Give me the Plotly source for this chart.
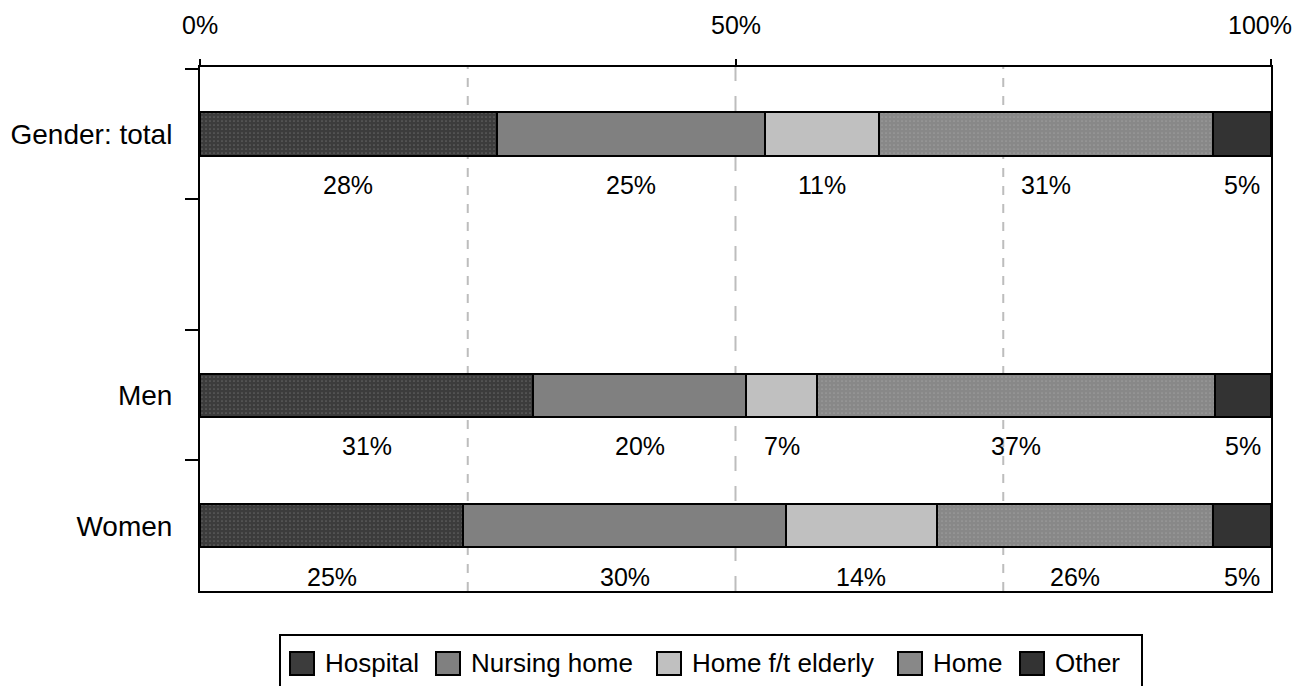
import plotly.graph_objects as go

categories = ["Gender: total", " ", "Men", "Women"]
series_names = ["Hospital", "Nursing home", "Home f/t elderly", "Home", "Other"]
# shares in % per category (blank row has no data)
hospital = [27.7, None, 31.1, 24.6]
nursing_home = [25.1, None, 19.9, 30.1]
home_elderly = [10.6, None, 6.6, 14.1]
home = [31.2, None, 37.2, 25.8]
other = [5.4, None, 5.2, 5.4]
x_ticks = [0, 50, 100]
x_tick_labels = ["0%", "50%", "100%"]

series_values = [hospital, nursing_home, home_elderly, home, other]
styles = [
    dict(color="#3c3c3c", pattern=dict(shape=".", fgcolor="#8a8a8a", bgcolor="#3c3c3c", size=4, solidity=0.15)),
    dict(color="#808080"),
    dict(color="#c0c0c0"),
    dict(color="#888888", pattern=dict(shape=".", fgcolor="#b0b0b0", bgcolor="#888888", size=4, solidity=0.15)),
    dict(color="#333333"),
]

FONT = "Liberation Sans, Arial, sans-serif"

# page is rendered with an 8px body margin; keep the figure inside the window
OFF = 8
W, H = 1304 - 2 * OFF, 694 - 2 * OFF
PL, PR, PT, PB = 200, 1271, 67, 591  # plot area in window pixels
TICK_LABEL_Y = 25                     # window y of top tick labels


def px_x(px):
    return (px - PL) / (PR - PL)


def px_y(py):
    return (PB - py) / (PB - PT)


fig = go.Figure()
for name, vals, st in zip(series_names, series_values, styles):
    marker = dict(color=st["color"], line=dict(color="#000000", width=2))
    if "pattern" in st:
        marker["pattern"] = st["pattern"]
    fig.add_trace(go.Bar(
        y=categories, x=vals, name=name, orientation="h",
        marker=marker, width=0.33, hoverinfo="x+name", showlegend=False,
    ))

# labels below each segment
annotations = []
for ci, cat in enumerate(categories):
    cum = 0
    for vals in series_values:
        v = vals[ci]
        if v is None:
            continue
        annotations.append(dict(
            x=cum + v / 2, y=cat, xref="x", yref="y", text=f"{round(v)}%",
            showarrow=False, yshift=-51, font=dict(size=25, color="#000", family=FONT),
        ))
        cum += v

# top axis tick labels (last one kept inside the page edge)
for tv, tt in zip(x_ticks, x_tick_labels):
    last = tv == x_ticks[-1]
    annotations.append(dict(
        x=tv, y=1, xref="x", yref="paper", text=tt, showarrow=False,
        xanchor="right" if last else "center", yanchor="middle",
        xshift=(1294 - PR) if last else 0, yshift=PT - TICK_LABEL_Y,
        font=dict(size=25, color="#000", family=FONT),
    ))

shapes = []
for gx, dash in [(25, "dash"), (50, "longdash"), (75, "dash")]:
    shapes.append(dict(type="line", xref="x", yref="paper", x0=gx, x1=gx, y0=0, y1=1,
                       line=dict(color="#bdbdbd", width=2, dash=dash), layer="below"))

# hand-drawn legend (larger swatches like the reference)
shapes.append(dict(type="rect", xref="paper", yref="paper",
                   x0=px_x(280), x1=px_x(1142), y0=px_y(635), y1=px_y(705),
                   line=dict(color="#000", width=2), fillcolor="rgba(0,0,0,0)"))
swatch_left = [290, 436, 657, 898, 1020]
for name, st, sx in zip(series_names, styles, swatch_left):
    shapes.append(dict(type="rect", xref="paper", yref="paper",
                       x0=px_x(sx), x1=px_x(sx + 24), y0=px_y(652), y1=px_y(675),
                       line=dict(color="#000", width=2), fillcolor=st["color"]))
    annotations.append(dict(
        x=px_x(sx + 33), y=px_y(663), xref="paper", yref="paper", text=name,
        xanchor="left", yanchor="middle", showarrow=False,
        font=dict(size=26, color="#000", family=FONT),
    ))

fig.update_layout(
    barmode="stack",
    width=W, height=H,
    margin=dict(l=PL - OFF, r=W + OFF - PR, t=PT - OFF, b=H + OFF - PB),
    paper_bgcolor="white", plot_bgcolor="white",
    font=dict(family=FONT, size=26, color="#000"),
    showlegend=False,
    annotations=annotations,
    shapes=shapes,
    bargap=0,
)
fig.update_xaxes(
    side="top", range=[0, 100], tickvals=x_ticks, showticklabels=False,
    showgrid=False, zeroline=False, showline=True, linecolor="#000", linewidth=2,
    mirror=True, ticks="outside", ticklen=6, tickwidth=2, tickcolor="#000",
    automargin=False,
)
fig.update_yaxes(
    categoryorder="array", categoryarray=categories, autorange="reversed",
    showgrid=False, zeroline=False, showline=True, linecolor="#000", linewidth=2,
    mirror=True, ticks="outside", ticklen=13, tickwidth=2, tickcolor="#000",
    tickson="boundaries", tickfont=dict(size=28, family=FONT), automargin=False,
    ticklabelstandoff=20,
)

fig.write_html("out.html")
